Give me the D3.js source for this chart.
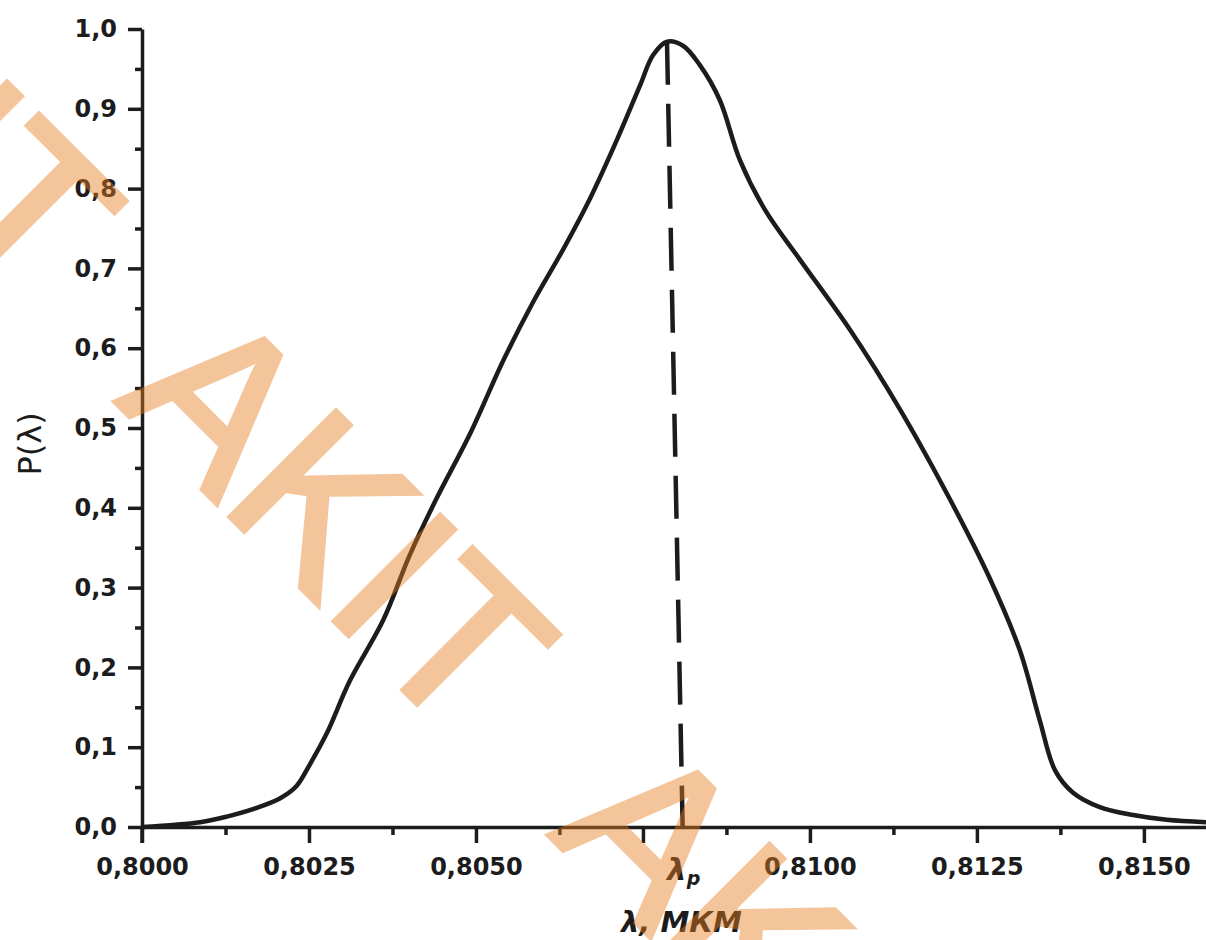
<!DOCTYPE html>
<html>
<head>
<meta charset="utf-8">
<script src="https://cdn.jsdelivr.net/npm/d3@7"></script>
<style>
  html, body { margin: 0; padding: 0; background: #fff; }
  svg { display: block; }
</style>
</head>
<body>
<div id="viz"></div>
<script>
// Data
const lambdaValues = [0.80000, 0.80087, 0.80127, 0.80172, 0.80207, 0.80231, 0.80251, 0.80277,
  0.80311, 0.80361, 0.80401, 0.80440, 0.80493, 0.80540, 0.80585, 0.80630, 0.80671, 0.80711,
  0.80746, 0.80765, 0.80786, 0.80810, 0.80835, 0.80865, 0.80895, 0.80933, 0.80985, 0.81060,
  0.81135, 0.81210, 0.81269, 0.81314, 0.81344, 0.81367, 0.81394, 0.81434, 0.81484, 0.81534, 0.81593];
const pValues = [0.000, 0.006, 0.013, 0.024, 0.036, 0.051, 0.078, 0.118,
  0.183, 0.259, 0.341, 0.410, 0.496, 0.583, 0.657, 0.723, 0.788, 0.861,
  0.930, 0.967, 0.984, 0.979, 0.955, 0.911, 0.836, 0.773, 0.711, 0.623,
  0.523, 0.410, 0.312, 0.222, 0.134, 0.071, 0.043, 0.025, 0.015, 0.009, 0.006];

// dashed marker line: from the peak down through the axis at lambda_p
const markerLambda = [0.80786, 0.80810];
const markerP = [0.984, -0.023];

const xMajorTicks = [0.8000, 0.8025, 0.8050, 0.8075, 0.8100, 0.8125, 0.8150];
const xTickLabels = ['0,8000', '0,8025', '0,8050', '', '0,8100', '0,8125', '0,8150'];
const xMinorTicks = [0.80125, 0.80375, 0.80625, 0.80875, 0.81125, 0.81375];
const yMajorTicks = [0, 0.1, 0.2, 0.3, 0.4, 0.5, 0.6, 0.7, 0.8, 0.9, 1.0];
const yMinorTicks = [0.05, 0.15, 0.25, 0.35, 0.45, 0.55, 0.65, 0.75, 0.85, 0.95];

const watermarkWords = ['AKIT', 'AKIT', 'AKIT'];

const width = 1206;
const height = 940;
const margin = {top: 29, right: 0, bottom: 113, left: 142};
const ink = '#1c1c1c';
const labelFont = '"DejaVu Sans", sans-serif';

const svg = d3.select('#viz')
  .append('svg')
    .attr('width', width)
    .attr('height', height)
    .attr('viewBox', `0 0 ${width} ${height}`);

const xScale = d3.scaleLinear()
  .domain([0.8000, 0.81593])
  .range([margin.left, width - margin.right]);
const yScale = d3.scaleLinear()
  .domain([0, 1])
  .range([height - margin.bottom, margin.top]);

const commaFmt = f => v => d3.format(f)(v).replace('.', ',');

// x axis
svg.append('g')
    .attr('class', 'x-axis-group')
    .attr('transform', `translate(0, ${yScale(0)})`)
    .call(d3.axisBottom(xScale)
      .tickValues(xMajorTicks)
      .tickFormat((d, i) => xTickLabels[i])
      .tickSize(16)
      .tickPadding(15)
      .tickSizeOuter(0));
svg.append('g')
    .attr('class', 'x-minor')
    .attr('transform', `translate(0, ${yScale(0)})`)
    .call(d3.axisBottom(xScale)
      .tickValues(xMinorTicks)
      .tickFormat('')
      .tickSize(8)
      .tickSizeOuter(0))
    .select('.domain').remove();

// y axis
svg.append('g')
    .attr('class', 'y-axis-group')
    .attr('transform', `translate(${xScale(0.8)}, 0)`)
    .call(d3.axisLeft(yScale)
      .tickValues(yMajorTicks)
      .tickFormat(commaFmt('.1f'))
      .tickSize(14)
      .tickPadding(11)
      .tickSizeOuter(0));
svg.append('g')
    .attr('class', 'y-minor')
    .attr('transform', `translate(${xScale(0.8)}, 0)`)
    .call(d3.axisLeft(yScale)
      .tickValues(yMinorTicks)
      .tickFormat('')
      .tickSize(7)
      .tickSizeOuter(0))
    .select('.domain').remove();

svg.selectAll('.domain, .tick line')
    .attr('stroke', ink)
    .attr('stroke-width', 3.5);
svg.selectAll('.tick text')
    .attr('fill', ink)
    .style('font-family', labelFont)
    .style('font-size', '24px')
    .style('font-weight', 700);

// y axis runs on below the x axis as far as a major tick
svg.append('line')
    .attr('x1', xScale(0.8)).attr('x2', xScale(0.8))
    .attr('y1', yScale(0)).attr('y2', yScale(0) + 16)
    .attr('stroke', ink).attr('stroke-width', 3.5);

// axis titles
svg.append('text')
    .attr('transform', `translate(41, ${yScale(0.48)}) rotate(-90)`)
    .attr('text-anchor', 'middle')
    .attr('fill', ink)
    .style('font-family', labelFont)
    .style('font-size', '32px')
    .text('P(λ)');

svg.append('text')
    .attr('x', 621)
    .attr('y', 932)
    .attr('fill', ink)
    .style('font-family', labelFont)
    .style('font-size', '29px')
    .style('font-style', 'italic')
    .style('font-weight', 700)
    .text('λ, МКМ');

// lambda_p label under the dashed line
const lp = svg.append('text')
    .attr('x', xScale(markerLambda[1]) - 16)
    .attr('y', 880)
    .attr('fill', ink)
    .style('font-family', labelFont)
    .style('font-size', '31px')
    .style('font-style', 'italic')
    .style('font-weight', 700);
lp.append('tspan').text('λ');
lp.append('tspan')
    .attr('dy', 5)
    .style('font-size', '19px')
    .text('р');

// curve
const curveData = lambdaValues.map((l, i) => ({l, p: pValues[i]}));
const line = d3.line()
    .x(d => xScale(d.l))
    .y(d => yScale(d.p))
    .curve(d3.curveCatmullRom.alpha(0.5));
svg.append('path')
    .datum(curveData)
    .attr('d', line)
    .attr('fill', 'none')
    .attr('stroke', ink)
    .attr('stroke-width', 4.5)
    .attr('stroke-linejoin', 'round');

// dashed marker line
const markerData = markerLambda.map((l, i) => ({l, p: markerP[i]}));
svg.append('path')
    .datum(markerData)
    .attr('d', d3.line().x(d => xScale(d.l)).y(d => yScale(d.p)))
    .attr('fill', 'none')
    .attr('stroke', ink)
    .attr('stroke-width', 4.5)
    .attr('stroke-dasharray', '43,19');

// watermark
const wm = svg.append('g')
    .attr('transform', 'translate(-319, -32) rotate(45)')
    .attr('fill', '#e77e21')
    .attr('stroke', '#e77e21')
    .attr('stroke-width', 5)
    .attr('opacity', 0.45);
wm.selectAll('text')
  .data(watermarkWords)
  .join('text')
    .attr('x', (d, i) => i * 613)
    .attr('y', 0)
    .style('font-family', '"Liberation Sans", Arial, sans-serif')
    .style('font-size', '218px')
    .text(d => d);
</script>
</body>
</html>
